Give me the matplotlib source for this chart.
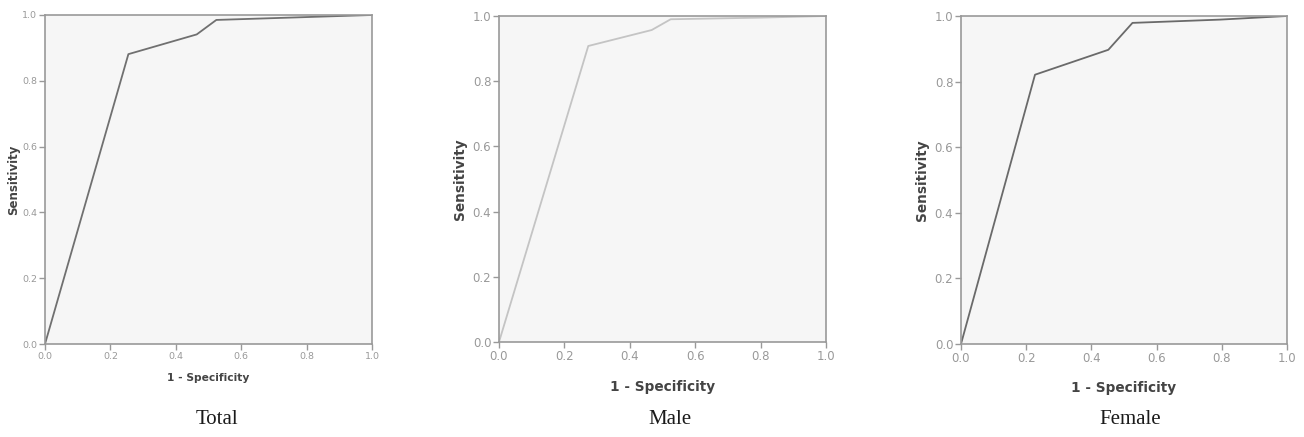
import matplotlib
matplotlib.use("Agg")
import matplotlib.pyplot as plt

titles = ["Total", "Male", "Female"]
total_fpr = [0.0, 0.255, 0.464, 0.524, 1.0]
total_tpr = [0.0, 0.881, 0.941, 0.985, 1.0]
male_fpr = [0.0, 0.273, 0.467, 0.525, 0.80, 1.0]
male_tpr = [0.0, 0.908, 0.957, 0.990, 0.995, 1.0]
female_fpr = [0.0, 0.227, 0.452, 0.526, 0.795, 1.0]
female_tpr = [0.0, 0.821, 0.897, 0.979, 0.989, 1.0]
tick_vals = [0.0, 0.2, 0.4, 0.6, 0.8, 1.0]
tick_labels = ["0.0", "0.2", "0.4", "0.6", "0.8", "1.0"]

series = [(total_fpr, total_tpr), (male_fpr, male_tpr), (female_fpr, female_tpr)]
line_colors = ["#707070", "#c4c4c4", "#6a6a6a"]
positions = [
    [45/1304, 93/437, 327/1304, 329/437],
    [499/1304, 95/437, 327/1304, 326/437],
    [961/1304, 93/437, 326/1304, 328/437],
]
tick_fs = [6.8, 8.5, 8.5]
xlabel_fs = [7.7, 9.8, 9.8]
ylabel_fs = [8.5, 9.8, 9.8]
xlabel_y = [378, 387, 388]
ylabel_x = [14, 460, 922]
title_x = [217, 670, 1130]

fig = plt.figure(figsize=(13.04, 4.37), dpi=100)
for i, (x, y) in enumerate(series):
    ax = fig.add_axes(positions[i])
    ax.set_facecolor("#f6f6f6")
    ax.plot(x, y, color=line_colors[i], lw=1.3)
    ax.set_xlim(0, 1)
    ax.set_ylim(0, 1)
    ax.set_xticks(tick_vals)
    ax.set_xticklabels(tick_labels)
    ax.set_yticks(tick_vals)
    ax.set_yticklabels(tick_labels)
    for s in ax.spines.values():
        s.set_color("#999999")
        s.set_linewidth(1.2)
    ax.tick_params(direction="out", length=4, width=1, color="#999999",
                   labelcolor="#999999", labelsize=tick_fs[i], pad=1.5)
    fig.text(positions[i][0] + positions[i][2] / 2, 1 - xlabel_y[i] / 437,
             "1 - Specificity", ha="center", va="center",
             fontsize=xlabel_fs[i], fontweight="bold", color="#444444")
    fig.text(ylabel_x[i] / 1304, positions[i][1] + positions[i][3] / 2,
             "Sensitivity", ha="center", va="center", rotation=90,
             fontsize=ylabel_fs[i], fontweight="bold", color="#444444")
    fig.text(title_x[i] / 1304, 1 - 419 / 437, titles[i], ha="center",
             va="center", fontsize=15, family="Liberation Serif", color="#1a1a1a")

fig.savefig("out.png", dpi=100, facecolor="white")
